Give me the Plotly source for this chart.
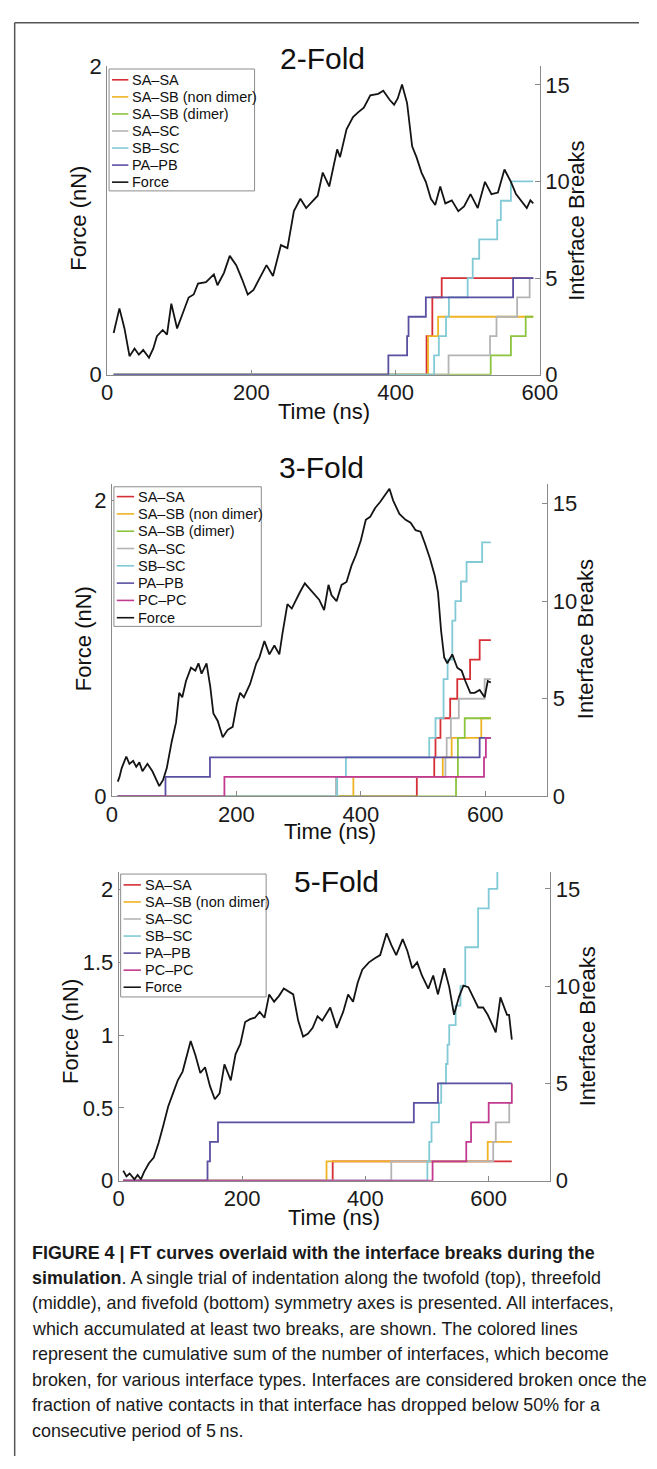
import plotly.graph_objects as go

# ---------------- DATA ----------------
# 2-Fold force curve
t_f2 = [9, 17, 24, 31, 38, 44, 50, 58, 64, 69, 77, 83, 89, 97, 105, 113, 120, 126, 137, 148,
        153, 162, 170, 179, 187, 195, 203, 210, 216, 221, 230, 241, 250, 259, 268, 276, 284, 292, 299, 308,
        319, 323, 332, 341, 348, 356, 365, 376, 383, 392, 398, 403, 409, 416, 423, 429, 436, 442, 449, 455,
        462, 469, 478, 487, 495, 504, 514, 524, 533, 542, 551, 560, 567, 575, 582, 587, 591]
f_f2 = [0.27, 0.43, 0.30, 0.12, 0.17, 0.13, 0.16, 0.11, 0.17, 0.25, 0.29, 0.26, 0.46, 0.30, 0.40, 0.50, 0.52, 0.59, 0.60, 0.65,
        0.58, 0.66, 0.77, 0.71, 0.62, 0.52, 0.55, 0.61, 0.66, 0.71, 0.64, 0.84, 0.82, 1.06, 1.14, 1.08, 1.12, 1.16, 1.31, 1.22,
        1.46, 1.41, 1.59, 1.67, 1.70, 1.73, 1.81, 1.82, 1.84, 1.78, 1.75, 1.79, 1.88, 1.76, 1.48, 1.41, 1.31, 1.25, 1.14, 1.10,
        1.22, 1.11, 1.13, 1.06, 1.09, 1.17, 1.08, 1.25, 1.17, 1.18, 1.33, 1.25, 1.17, 1.12, 1.08, 1.13, 1.11]

# 3-Fold force curve
t_f3 = [9.3, 12, 15.5, 23, 28, 34, 39, 44, 49, 57, 65, 70, 76, 82, 88, 96, 103, 108, 113, 119,
        127, 134, 139, 144, 152, 158, 163, 170, 178, 186, 194, 201, 206, 212, 222, 232, 237, 245, 253, 261,
        269, 274, 282, 289, 297, 302, 310, 318, 325, 333, 341, 348, 353, 361, 369, 377, 385, 392, 400, 408,
        415, 423, 431, 441, 446, 452, 462, 472, 480, 488, 496, 503, 511, 519, 524, 529, 534, 539, 547, 555,
        562, 568, 576, 583, 591, 599, 604, 609]
f_f3 = [0.10, 0.13, 0.19, 0.27, 0.22, 0.24, 0.20, 0.23, 0.17, 0.22, 0.17, 0.12, 0.07, 0.11, 0.19, 0.37, 0.50, 0.70, 0.67, 0.78,
        0.87, 0.85, 0.90, 0.83, 0.90, 0.74, 0.56, 0.51, 0.40, 0.45, 0.47, 0.63, 0.70, 0.67, 0.76, 0.90, 0.94, 1.05, 0.96, 1.02,
        0.96, 1.10, 1.30, 1.27, 1.34, 1.38, 1.44, 1.40, 1.37, 1.33, 1.26, 1.43, 1.36, 1.32, 1.43, 1.45, 1.56, 1.63, 1.73, 1.87,
        1.89, 1.95, 1.99, 2.05, 2.08, 2.00, 1.91, 1.87, 1.85, 1.80, 1.79, 1.71, 1.61, 1.49, 1.38, 1.12, 0.94, 0.90, 0.96, 0.87,
        0.85, 0.78, 0.70, 0.70, 0.72, 0.67, 0.78, 0.77]

# 5-Fold force curve
t_f5 = [7.3, 12.5, 17.7, 25.5, 30.7, 35.9, 41, 49, 56.8, 64.6, 72.3, 80.2, 88, 95.8, 103.6, 108.9, 116.7, 124.5, 132.3, 140,
        148, 155.8, 163.6, 171.4, 176.6, 181.7, 189.5, 197.3, 205, 213, 220.8, 228.6, 236.4, 244, 252, 260, 267.7, 275.5, 283, 291,
        299, 306.7, 314.5, 322.4, 330, 343, 353.6, 364, 372, 380, 387.5, 395, 405.8, 416, 424, 434.4, 442, 450, 460.5, 468,
        476, 484, 491.7, 502, 510, 517.7, 528, 536, 543.8, 551.6, 559, 567, 575, 583, 591, 598.4, 606, 611.4, 619, 624.5,
        629.7, 633, 637.5]
f_f5 = [0.07, 0.03, 0.05, 0.01, 0.04, 0.01, 0.06, 0.12, 0.16, 0.26, 0.38, 0.51, 0.60, 0.69, 0.75, 0.83, 0.96, 0.86, 0.74, 0.78,
        0.65, 0.56, 0.60, 0.80, 0.74, 0.69, 0.87, 0.94, 1.09, 1.11, 1.12, 1.16, 1.12, 1.28, 1.23, 1.27, 1.32, 1.30, 1.28, 1.10,
        0.99, 1.01, 1.05, 1.13, 1.10, 1.19, 1.05, 1.16, 1.28, 1.23, 1.36, 1.45, 1.50, 1.53, 1.55, 1.70, 1.62, 1.55, 1.66, 1.58,
        1.46, 1.50, 1.41, 1.32, 1.41, 1.28, 1.46, 1.33, 1.14, 1.26, 1.34, 1.33, 1.26, 1.19, 1.19, 1.14, 1.07, 1.02, 1.26, 1.19,
        1.14, 1.14, 0.97]

# Interface breaks (cumulative counts, step times in ns)
# 2-Fold
b2_sasa_t = [9, 443, 451, 464, 591];                b2_sasa_n = [0, 2, 4, 5, 5]
b2_sasbn_t = [9, 445, 459, 591];                    b2_sasbn_n = [0, 2, 3, 3]
b2_sasbd_t = [9, 532, 560, 580.5, 591];             b2_sasbd_n = [0, 1, 2, 3, 3]
b2_sasc_t = [9, 473.5, 531, 540, 568.6, 586, 591];  b2_sasc_n = [0, 1, 2, 3, 4, 5, 5]
b2_sbsc_t = [9, 453.5, 460, 470, 474, 500, 507, 516, 541, 546, 560, 591]
b2_sbsc_n = [0, 1, 2, 3, 4, 5, 6, 7, 8, 9, 10, 10]
b2_papb_t = [9, 390, 416, 418, 442, 563, 591];      b2_papb_n = [0, 1, 2, 3, 4, 5, 5]

# 3-Fold
b3_sasa_t = [9, 490, 518, 520, 528, 543.6, 555, 575.6, 591, 609]
b3_sasa_n = [0, 1, 2, 3, 4, 5, 6, 7, 8, 8]
b3_sasbn_t = [9, 388, 531.7, 546, 593.6, 609];       b3_sasbn_n = [0, 1, 2, 3, 4, 4]
b3_sasbd_t = [9, 553, 556, 567, 609];                b3_sasbd_n = [0, 1, 3, 4, 4]
b3_sasc_t = [9, 360, 536, 538, 544.7, 557.5, 599, 609]
b3_sasc_n = [0, 1, 2, 3, 4, 5, 6, 6]
b3_sbsc_t = [9, 362, 376, 510, 520, 533, 539.5, 547, 552, 561, 570, 595, 609]
b3_sbsc_n = [0, 1, 2, 3, 4, 6, 7, 9, 10, 11, 12, 13, 13]
b3_papb_t = [9, 86, 157.5, 591, 609];                b3_papb_n = [0, 1, 2, 3, 3]
b3_pcpc_t = [9, 180.7, 598, 601, 609];               b3_pcpc_n = [0, 1, 2, 3, 3]

# 5-Fold
b5_sasa_t = [7, 347, 637.5];                         b5_sasa_n = [0, 1, 1]
b5_sasbn_t = [7, 337, 598.4, 637.5];                 b5_sasbn_n = [0, 1, 2, 2]
b5_sasc_t = [7, 442, 607.3, 611.5, 633.3, 637.5];    b5_sasc_n = [0, 1, 2, 3, 4, 4]
b5_sbsc_t = [7, 500.5, 503.6, 507.3, 519.3, 523, 530.7, 533.3, 536, 546.4, 554.2, 562, 582.8, 600, 614, 637.5]
b5_sbsc_n = [0, 1, 2, 3, 4, 5, 6, 7, 8, 9, 10, 12, 14, 15, 16, 16]
b5_papb_t = [7, 144, 148, 161, 478.6, 517.7, 637.5]; b5_papb_n = [0, 1, 2, 3, 4, 5, 5]
b5_pcpc_t = [7, 509, 563.6, 571.4, 600, 637.5];      b5_pcpc_n = [0, 1, 2, 3, 4, 5]

titles = ["2-Fold", "3-Fold", "5-Fold"]
x_ticks = [0, 200, 400, 600]
right_ticks = [0, 5, 10, 15]
left_ticks = [[0, 2], [0, 2], [0, 0.5, 1, 1.5, 2]]
left_ticktext = [["0", "2"], ["0", "2"], ["0", "0.5", "1", "1.5", "2"]]

caption_lines = [
    "<b>FIGURE 4 | FT curves overlaid with the interface breaks during the</b>",
    "<b>simulation</b>. A single trial of indentation along the twofold (top), threefold",
    "(middle), and fivefold (bottom) symmetry axes is presented. All interfaces,",
    "which accumulated at least two breaks, are shown. The colored lines",
    "represent the cumulative sum of the number of interfaces, which become",
    "broken, for various interface types. Interfaces are considered broken once the",
    "fraction of native contacts in that interface has dropped below 50% for a",
    "consecutive period of 5\u2009ns.",
]

# ---------------- STYLE ----------------
COL = {
    "SA–SA": "#d62f35",
    "SA–SB (non dimer)": "#efb324",
    "SA–SB (dimer)": "#8cc43e",
    "SA–SC": "#b4b4b4",
    "SB–SC": "#82cad5",
    "PA–PB": "#5a50a2",
    "PC–PC": "#c23a8f",
    "Force": "#141414",
}
AXC = "#8a8a8a"
FONT = "Liberation Sans, Arial, Helvetica, sans-serif"
W, H = 657, 1469


def fx(x):
    return x / W


def fy(y):
    return 1 - y / H


panels = [
    dict(x0=105, x1=554, ytop=55, ybot=369, xmax=600, fmax=2.0, bmax=15.97,
         force=(t_f2, f_f2),
         steps=[("SA–SA", b2_sasa_t, b2_sasa_n), ("SA–SB (non dimer)", b2_sasbn_t, b2_sasbn_n),
                ("SA–SB (dimer)", b2_sasbd_t, b2_sasbd_n), ("SA–SC", b2_sasc_t, b2_sasc_n),
                ("SB–SC", b2_sbsc_t, b2_sbsc_n), ("PA–PB", b2_papb_t, b2_papb_n)],
         title=(329, 47), time=(330, 406), fl=(75, 210), ib=(592, 212),
         leg=dict(x0=107, x1=258, y0=58, y1=182, y_first=69, dy=17.35, lx0=110, lx1=127, tx=129)),
    dict(x0=110, x1=562, ytop=480, ybot=798, xmax=700, fmax=2.113, bmax=16.0,
         force=(t_f3, f_f3),
         steps=[("SA–SA", b3_sasa_t, b3_sasa_n), ("SA–SB (non dimer)", b3_sasbn_t, b3_sasbn_n),
                ("SA–SB (dimer)", b3_sasbd_t, b3_sasbd_n), ("SA–SC", b3_sasc_t, b3_sasc_n),
                ("SB–SC", b3_sbsc_t, b3_sbsc_n), ("PA–PB", b3_papb_t, b3_papb_n),
                ("PC–PC", b3_pcpc_t, b3_pcpc_n)],
         title=(327.5, 463), time=(336, 834), fl=(80, 638), ib=(601, 638),
         leg=dict(x0=112, x1=265, y0=483, y1=625, y_first=493, dy=17.6, lx0=115, lx1=133, tx=135)),
    dict(x0=117, x1=565, ytop=875, ybot=1189, xmax=700, fmax=2.12, bmax=15.86,
         force=(t_f5, f_f5),
         steps=[("SA–SA", b5_sasa_t, b5_sasa_n), ("SA–SB (non dimer)", b5_sasbn_t, b5_sasbn_n),
                ("SA–SC", b5_sasc_t, b5_sasc_n), ("SB–SC", b5_sbsc_t, b5_sbsc_n),
                ("PA–PB", b5_papb_t, b5_papb_n), ("PC–PC", b5_pcpc_t, b5_pcpc_n)],
         title=(343.5, 885), time=(340, 1226), fl=(67, 1037), ib=(604, 1032),
         leg=dict(x0=119, x1=270, y0=877, y1=1002, y_first=888, dy=17.35, lx0=122, lx1=140, tx=142)),
]

fig = go.Figure()
layout = dict(width=W, height=H, margin=dict(l=0, r=0, t=0, b=0),
              paper_bgcolor="white", plot_bgcolor="rgba(0,0,0,0)", showlegend=False,
              font=dict(family=FONT, color="#1a1a1a"))
shapes = []
annots = []

common_ax = dict(showgrid=False, zeroline=False, showline=True, linecolor=AXC, linewidth=1,
                 ticks="inside", ticklen=5, tickcolor=AXC, tickwidth=1,
                 tickfont=dict(family=FONT, size=22, color="#1a1a1a"), fixedrange=True)

for i, p in enumerate(panels):
    xn = "x" if i == 0 else f"x{i + 1}"
    yb_idx = 2 * i + 1
    yf_idx = 2 * i + 2
    ybn = "y" if yb_idx == 1 else f"y{yb_idx}"
    yfn = f"y{yf_idx}"
    layout["xaxis" if i == 0 else f"xaxis{i + 1}"] = dict(
        common_ax, domain=[fx(p["x0"]), fx(p["x1"])], range=[0, p["xmax"]], anchor=ybn,
        tickvals=x_ticks, ticklabelstandoff=-2)
    layout["yaxis" if yb_idx == 1 else f"yaxis{yb_idx}"] = dict(
        common_ax, domain=[fy(p["ybot"]), fy(p["ytop"])], range=[0, p["bmax"]], anchor=xn,
        side="right", tickvals=right_ticks, ticklabelstandoff=0)
    layout[f"yaxis{yf_idx}"] = dict(
        common_ax, overlaying=ybn, range=[0, p["fmax"]], anchor=xn, side="left",
        tickvals=left_ticks[i], ticktext=left_ticktext[i], ticklabelstandoff=0)

    for name, tt, nn in p["steps"]:
        fig.add_trace(go.Scatter(x=tt, y=nn, mode="lines", line=dict(color=COL[name], width=1.8, shape="hv"),
                                 xaxis=xn, yaxis=ybn, name=name, hoverinfo="skip"))
    tf, ff = p["force"]
    fig.add_trace(go.Scatter(x=tf, y=ff, mode="lines", line=dict(color=COL["Force"], width=1.8),
                             xaxis=xn, yaxis=yfn, name="Force", hoverinfo="skip"))

    # text
    tx, ty = p["title"]
    annots.append(dict(text=titles[i], x=fx(tx), y=fy(ty), xref="paper", yref="paper", showarrow=False,
                       xanchor="center", yanchor="middle", font=dict(family=FONT, size=30, color="#111")))
    tx, ty = p["time"]
    annots.append(dict(text="Time (ns)", x=fx(tx), y=fy(ty), xref="paper", yref="paper", showarrow=False,
                       xanchor="center", yanchor="middle", font=dict(family=FONT, size=22, color="#111")))
    tx, ty = p["fl"]
    annots.append(dict(text="Force (nN)", x=fx(tx), y=fy(ty), xref="paper", yref="paper", showarrow=False,
                       textangle=-90, xanchor="center", yanchor="middle",
                       font=dict(family=FONT, size=22, color="#111")))
    tx, ty = p["ib"]
    annots.append(dict(text="Interface Breaks", x=fx(tx), y=fy(ty), xref="paper", yref="paper", showarrow=False,
                       textangle=-90, xanchor="center", yanchor="middle",
                       font=dict(family=FONT, size=22, color="#111")))

    # legend box
    L = p["leg"]
    shapes.append(dict(type="rect", xref="paper", yref="paper", x0=fx(L["x0"]), x1=fx(L["x1"]),
                       y0=fy(L["y1"]), y1=fy(L["y0"]), line=dict(color="#8c8c8c", width=1),
                       fillcolor="white", layer="above"))
    names = [s[0] for s in p["steps"]] + ["Force"]
    for k, nm in enumerate(names):
        yy = L["y_first"] + k * L["dy"]
        shapes.append(dict(type="line", xref="paper", yref="paper", x0=fx(L["lx0"]), x1=fx(L["lx1"]),
                           y0=fy(yy), y1=fy(yy), line=dict(color=COL[nm], width=1.6), layer="above"))
        annots.append(dict(text=nm, x=fx(L["tx"]), y=fy(yy), xref="paper", yref="paper", showarrow=False,
                           xanchor="left", yanchor="middle", font=dict(family=FONT, size=14.5, color="#111")))

# figure frame
shapes.append(dict(type="line", xref="paper", yref="paper", x0=fx(9), x1=1, y0=fy(11), y1=fy(11),
                   line=dict(color="#555", width=1.5)))
shapes.append(dict(type="line", xref="paper", yref="paper", x0=fx(9), x1=fx(9), y0=fy(11), y1=0,
                   line=dict(color="#555", width=1.5)))

# caption
cap_y0, cap_dy = 1262, 25.9
for k, line in enumerate(caption_lines):
    annots.append(dict(text=line, x=fx(25), y=fy(cap_y0 + k * cap_dy), xref="paper", yref="paper",
                       showarrow=False, xanchor="left", yanchor="middle",
                       font=dict(family=FONT, size=17.9, color="#1a1a1a")))

layout["shapes"] = shapes
layout["annotations"] = annots
fig.update_layout(**layout)
fig.write_html("out.html", config={"displayModeBar": False},
               post_script="document.body.style.margin='0px';document.body.style.overflow='hidden';")
